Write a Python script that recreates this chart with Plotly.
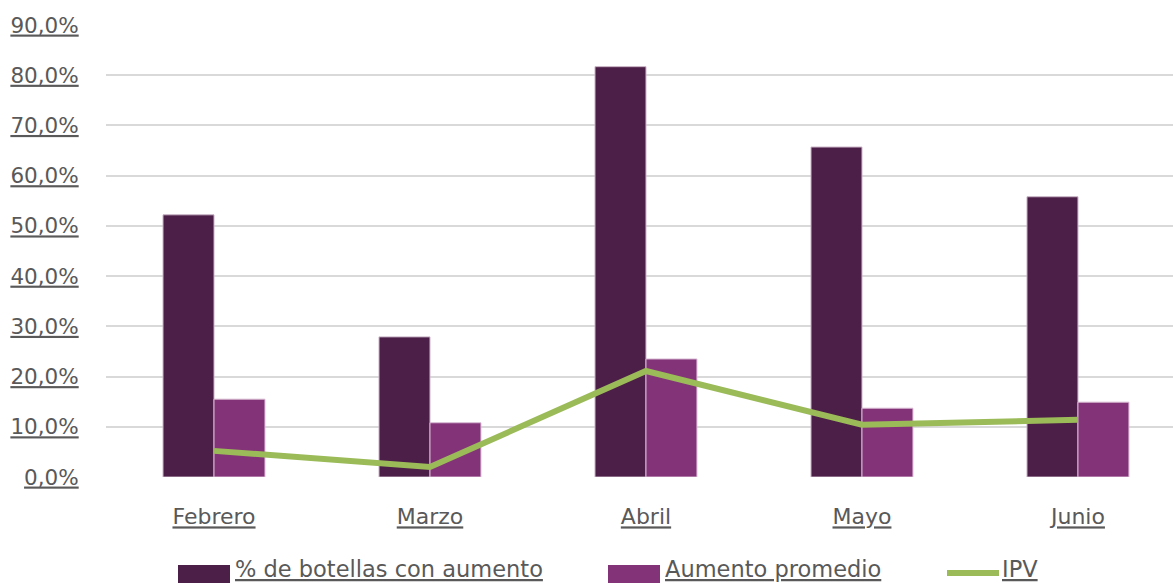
import plotly.graph_objects as go

meses = ["Febrero", "Marzo", "Abril", "Mayo", "Junio"]
pct_botellas = [52.2, 27.9, 81.7, 65.7, 55.8]
aumento_promedio = [15.5, 10.8, 23.5, 13.7, 14.9]
ipv = [5.2, 2.0, 21.1, 10.4, 11.4]
y_ticks = [0, 10, 20, 30, 40, 50, 60, 70, 80, 90]
y_ticklabels = ["<u>%s,0%%</u>" % v for v in y_ticks]
x_ticklabels = ["<u>%s</u>" % m for m in meses]
series_names = ["% de botellas con aumento", "Aumento promedio", "IPV"]
series_colors = ["#4B1F47", "#833378", "#9BBB59"]

font_fam = "DejaVu Sans"
txt_col = "#595959"
W, H = 1173, 583
L, R, T, B = 106, 0, 25, 106
pw, ph = W - L - R, H - T - B


def px(x):
    return (x - L) / pw


def py(y):
    return (H - B - y) / ph


fig = go.Figure()
fig.add_trace(go.Bar(
    x=meses, y=pct_botellas, name=series_names[0],
    marker=dict(color=series_colors[0], line=dict(color="#c9b3c6", width=1)),
))
fig.add_trace(go.Bar(
    x=meses, y=aumento_promedio, name=series_names[1],
    marker=dict(color=series_colors[1], line=dict(color="#d9bcd4", width=1)),
))
fig.add_trace(go.Scatter(
    x=meses, y=ipv, name=series_names[2], mode="lines",
    line=dict(color=series_colors[2], width=6),
))

# legend drawn manually (larger swatches as in the reference)
leg_font = dict(size=22.5, color=txt_col, family=font_fam)
shapes = [
    dict(type="rect", xref="paper", yref="paper", x0=px(178), x1=px(230), y0=py(595), y1=py(565),
         fillcolor=series_colors[0], line=dict(width=0)),
    dict(type="rect", xref="paper", yref="paper", x0=px(608), x1=px(660), y0=py(595), y1=py(565),
         fillcolor=series_colors[1], line=dict(width=0)),
    dict(type="line", xref="paper", yref="paper", x0=px(947), x1=px(999), y0=py(573), y1=py(573),
         line=dict(color=series_colors[2], width=6)),
]
annotations = [
    dict(text="<u>%s</u>" % series_names[0], xref="paper", yref="paper", x=px(233), y=py(569),
         xanchor="left", yanchor="middle", showarrow=False, font=leg_font),
    dict(text="<u>%s</u>" % series_names[1], xref="paper", yref="paper", x=px(663), y=py(569),
         xanchor="left", yanchor="middle", showarrow=False, font=leg_font),
    dict(text="<u>%s</u>" % series_names[2], xref="paper", yref="paper", x=px(1000), y=py(569),
         xanchor="left", yanchor="middle", showarrow=False, font=leg_font),
]

fig.update_layout(
    width=W, height=H,
    margin=dict(l=L, r=R, t=T, b=B, autoexpand=False),
    paper_bgcolor="white", plot_bgcolor="white",
    barmode="group", bargap=0.528, bargroupgap=0,
    font=dict(family=font_fam, size=21, color=txt_col),
    showlegend=False,
    shapes=shapes, annotations=annotations,
    xaxis=dict(range=[-0.5, 4.44], tickvals=meses, ticktext=x_ticklabels,
               tickfont=dict(size=22),
               ticks="outside", ticklen=20, tickcolor="rgba(0,0,0,0)",
               showgrid=False, showline=False, zeroline=False, automargin=False),
    yaxis=dict(range=[0, 90], tickvals=y_ticks, ticktext=y_ticklabels,
               tickfont=dict(size=21.5),
               ticks="outside", ticklen=22, tickcolor="rgba(0,0,0,0)",
               showgrid=True, gridcolor="#d9d9d9", gridwidth=2,
               zeroline=False, showline=False, automargin=False),
)

fig.write_html("out.html", config={"displayModeBar": False},
               post_script="document.body.style.margin='0';document.body.style.overflow='hidden';")
